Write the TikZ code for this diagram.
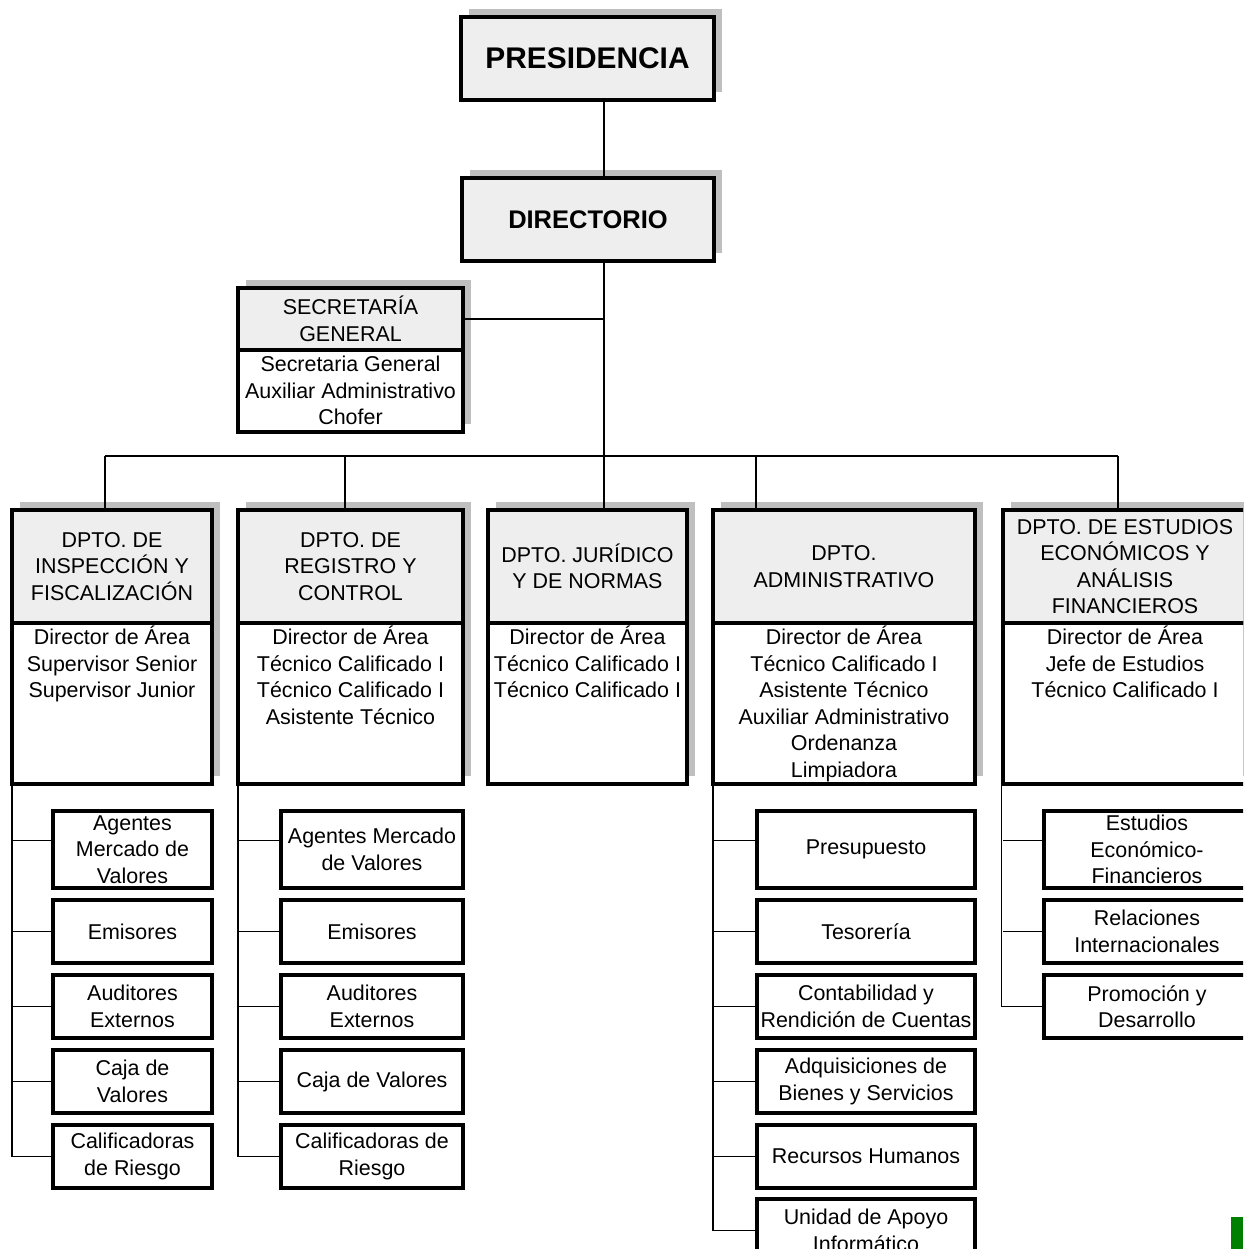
\documentclass[tikz,border=0pt]{standalone}
\usepackage{fontspec}
\setmainfont{Liberation Sans}
\usetikzlibrary{backgrounds}

\definecolor{boxfill}{HTML}{EEEEEE}
\definecolor{shadowgray}{HTML}{BFBFBF}
\definecolor{markgreen}{HTML}{008000}

\newcommand{\firstrow}{\rule{0pt}{12.2pt}}

\tikzset{
  orgbox/.style={draw, line width=1.8pt, inner sep=1pt, outer sep=0pt,
    anchor=north west, align=center, font=\fontsize{12.2}{15.1}\selectfont},
  headbox/.style={orgbox, fill=boxfill},
  bodybox/.style={orgbox, fill=white},
  subbox/.style={orgbox, fill=white},
  listtext/.style={anchor=north, inner sep=0pt, align=center,
    font=\fontsize{12.2}{15.1}\selectfont},
  conn/.style={line width=0.6pt},
  dropshade/.style={fill=shadowgray}
}

\begin{document}
\begin{tikzpicture}[x=0.2mm, y=-0.2mm]
\useasboundingbox (0,0) rectangle (1243,1249);
\clip (0,0) rectangle (1243,1249);

% top of the chart
\node[headbox, minimum width=50.6mm, minimum height=16.6mm,
  font=\fontsize{17}{20}\selectfont\bfseries] (pres) at (461,17) {PRESIDENCIA};
\node[headbox, minimum width=50.4mm, minimum height=16.6mm,
  font=\fontsize{14.5}{17}\selectfont\bfseries] (dir) at (462,178) {DIRECTORIO};

% secretaria
\node[headbox, minimum width=45mm, minimum height=12.4mm] (sech) at (238,288) {SECRETARÍA\\GENERAL};
\node[bodybox, minimum width=45mm, minimum height=16.4mm] (secb) at (sech.south west) {};
\node[listtext] (secl) at (secb.north) {\firstrow Secretaria General\\Auxiliar Administrativo\\Chofer};

% departamentos
\node[headbox, minimum width=40mm, minimum height=22.6mm] (d1h) at (12,510) {DPTO. DE\\INSPECCIÓN Y\\FISCALIZACIÓN};
\node[bodybox, minimum width=40mm, minimum height=32.2mm] (d1b) at (d1h.south west) {};
\node[listtext] (d1l) at (d1b.north) {\firstrow Director de Área\\Supervisor Senior\\Supervisor Junior};

\node[headbox, minimum width=45mm, minimum height=22.6mm] (d2h) at (238,510) {DPTO. DE\\REGISTRO Y\\CONTROL};
\node[bodybox, minimum width=45mm, minimum height=32.2mm] (d2b) at (d2h.south west) {};
\node[listtext] (d2l) at (d2b.north) {\firstrow Director de Área\\Técnico Calificado I\\Técnico Calificado I\\Asistente Técnico};

\node[headbox, minimum width=39.8mm, minimum height=22.6mm] (d3h) at (488,510) {DPTO. JURÍDICO\\Y DE NORMAS};
\node[bodybox, minimum width=39.8mm, minimum height=32.2mm] (d3b) at (d3h.south west) {};
\node[listtext] (d3l) at (d3b.north) {\firstrow Director de Área\\Técnico Calificado I\\Técnico Calificado I};

\node[headbox, minimum width=52.4mm, minimum height=22.6mm] (d4h) at (713,510) {DPTO.\\ADMINISTRATIVO};
\node[bodybox, minimum width=52.4mm, minimum height=32.2mm] (d4b) at (d4h.south west) {};
\node[listtext] (d4l) at (d4b.north) {\firstrow Director de Área\\Técnico Calificado I\\Asistente Técnico\\Auxiliar Administrativo\\Ordenanza\\Limpiadora};

\node[headbox, minimum width=48.8mm, minimum height=22.6mm] (d5h) at (1003,510) {DPTO. DE ESTUDIOS\\ECONÓMICOS Y\\ANÁLISIS\\FINANCIEROS};
\node[bodybox, minimum width=48.8mm, minimum height=32.2mm] (d5b) at (d5h.south west) {};
\node[listtext] (d5l) at (d5b.north) {\firstrow Director de Área\\Jefe de Estudios\\Técnico Calificado I};

% shadows
\begin{scope}[on background layer]
\foreach \a/\b in {pres/pres, dir/dir, sech/secb, d1h/d1b, d2h/d2b, d3h/d3b, d4h/d4b, d5h/d5b}
  \fill[dropshade] ([shift={(8,-8)}]\a.north west) rectangle ([shift={(8,-8)}]\b.south east);
\end{scope}

% unidades
\foreach \n/\top/\h/\txt in {1/811/15.4/{Agentes\\Mercado de\\Valores}, 2/900/12.6/Emisores,
    3/975/12.6/{Auditores\\Externos}, 4/1050/12.6/{Caja de\\Valores}, 5/1125/12.6/{Calificadoras\\de Riesgo}}
  \node[subbox, minimum width=31.8mm, minimum height=\h mm] (a\n) at (53,\top) {\txt};

\foreach \n/\top/\h/\txt in {1/811/15.4/{Agentes Mercado\\de Valores}, 2/900/12.6/Emisores,
    3/975/12.6/{Auditores\\Externos}, 4/1050/12.6/Caja de Valores, 5/1125/12.6/{Calificadoras de\\Riesgo}}
  \node[subbox, minimum width=36.4mm, minimum height=\h mm] (r\n) at (281,\top) {\txt};

\foreach \n/\top/\h/\txt in {1/811/15.4/Presupuesto, 2/900/12.6/Tesorería,
    3/975/12.6/{Contabilidad y\\Rendición de Cuentas}, 4/1050/12.6/{Adquisiciones de\\Bienes y Servicios},
    5/1125/12.6/Recursos Humanos, 6/1199/12.6/{Unidad de Apoyo\\Informático}}
  \node[subbox, minimum width=43.6mm, minimum height=\h mm] (m\n) at (757,\top) {\txt};

\foreach \n/\top/\h/\txt in {1/811/15.4/{Estudios\\Económico-\\Financieros},
    2/900/12.6/{Relaciones\\Internacionales}, 3/975/12.6/{Promoción y\\Desarrollo}}
  \node[subbox, minimum width=41.2mm, minimum height=\h mm] (e\n) at (1044,\top) {\txt};

% lineas
\coordinate (trunk) at (604,456);
\coordinate (bus1) at (105,456);
\coordinate (bus2) at (345,456);
\coordinate (bus4) at (756,456);
\coordinate (bus5) at (1118,456);
\draw[conn] (pres.south -| trunk) -- (dir.north -| trunk);
\draw[conn] (dir.south -| trunk) -- (trunk);
\draw[conn] (sech.east) -- (sech.east -| trunk);
\draw[conn] (bus1) -- (bus5);
\draw[conn] (bus1) -- (bus1 |- d1h.north);
\draw[conn] (bus2) -- (bus2 |- d2h.north);
\draw[conn] (trunk) -- (trunk |- d3h.north);
\draw[conn] (bus4) -- (bus4 |- d4h.north);
\draw[conn] (bus5) -- (bus5 |- d5h.north);

\draw[conn] (d1b.south west) |- (a5.west);
\draw[conn] ([yshift=1.8mm]a1.west) -- ([yshift=1.8mm]a1.west -| d1b.west);
\foreach \n in {2,...,4}
  \draw[conn] (a\n.west) -- (a\n.west -| d1b.west);

\draw[conn] (d2b.south west) |- (r5.west);
\draw[conn] ([yshift=1.8mm]r1.west) -- ([yshift=1.8mm]r1.west -| d2b.west);
\foreach \n in {2,...,4}
  \draw[conn] (r\n.west) -- (r\n.west -| d2b.west);

\draw[conn] (d4b.south west) |- (m6.west);
\draw[conn] ([yshift=1.8mm]m1.west) -- ([yshift=1.8mm]m1.west -| d4b.west);
\foreach \n in {2,...,5}
  \draw[conn] (m\n.west) -- (m\n.west -| d4b.west);

\draw[conn] ([xshift=-1pt]d5b.south west) |- (e3.west);
\draw[conn] ([yshift=1.8mm]e1.west) -- ([yshift=1.8mm]e1.west -| d5b.west);
\draw[conn] (e2.west) -- (e2.west -| d5b.west);

\fill[markgreen] (1231,1217) rectangle (1243,1249);
\end{tikzpicture}
\end{document}
